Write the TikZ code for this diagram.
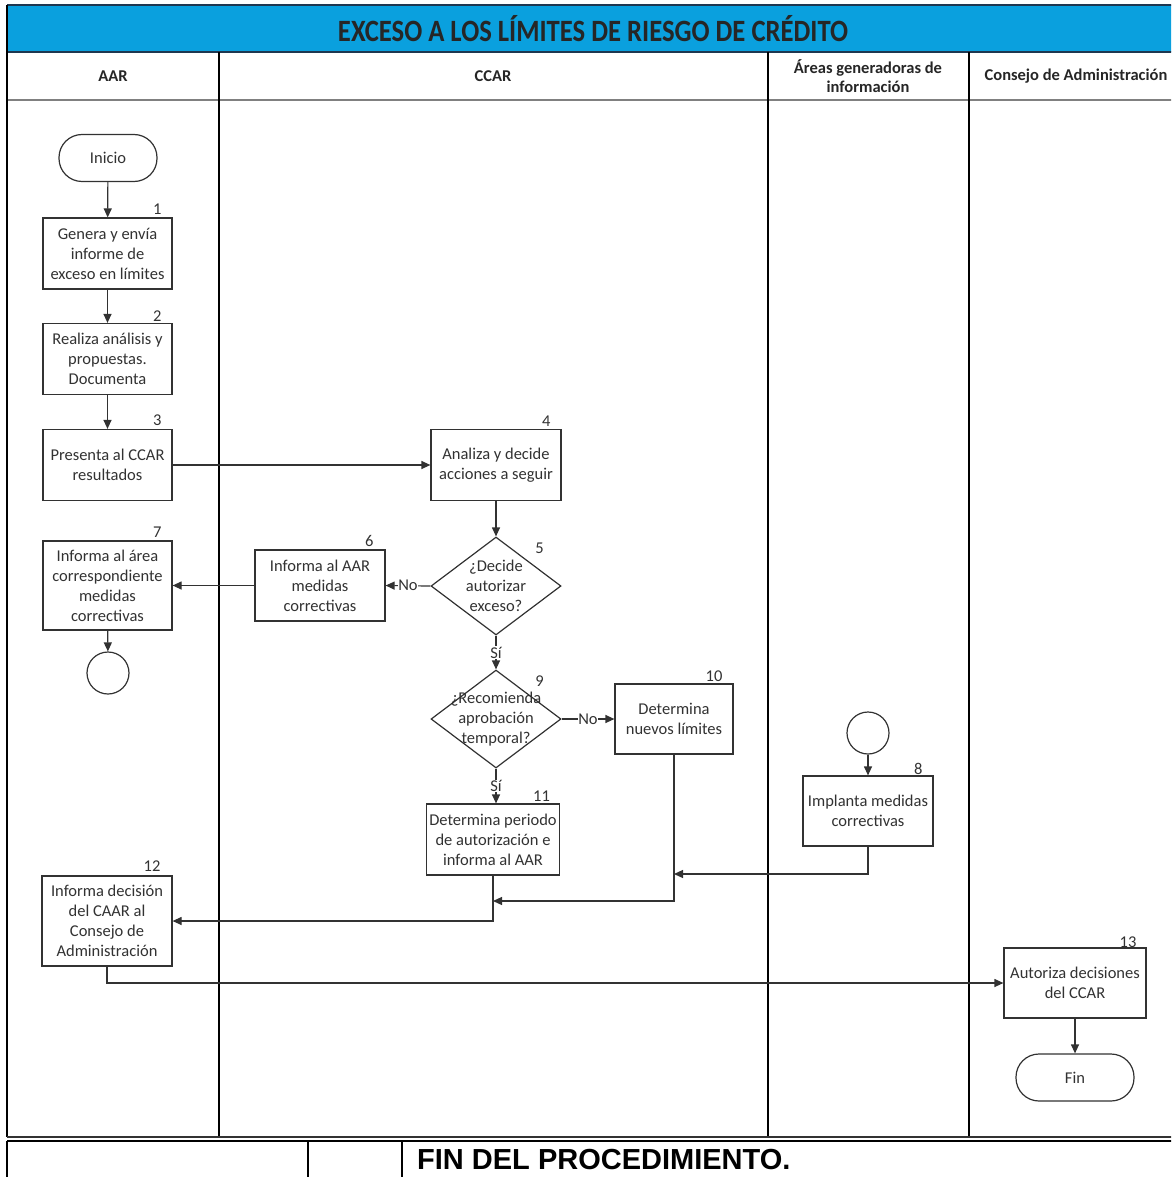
\documentclass[tikz,border=0pt]{standalone}
\usepackage{fontspec}
\setmainfont{Carlito}
\newfontfamily\arialfont{Liberation Sans}
\usetikzlibrary{arrows.meta,shapes.geometric,calc}
\definecolor{titleblue}{RGB}{10,160,222}
\definecolor{navy}{RGB}{30,55,80}
\definecolor{ink}{RGB}{50,50,50}
\begin{document}
\begin{tikzpicture}[x=1pt,y=-1pt,
  txtfont/.style={font=\fontsize{16.5}{20}\selectfont, text=ink},
  box/.style={draw=ink, line width=1.2pt, fill=white, rectangle, minimum width=130pt, minimum height=71pt, align=center, inner sep=1pt, txtfont},
  term/.style={draw=ink, line width=1.2pt, fill=white, rectangle, rounded corners=23pt, minimum width=98pt, minimum height=47pt, align=center, txtfont},
  dec/.style={draw=ink, line width=1.2pt, fill=white, diamond, minimum width=130pt, minimum height=98pt, inner sep=0pt},
  conn/.style={draw=ink, line width=1.2pt, circle, minimum size=42pt, inner sep=0pt},
  dtext/.style={align=center, txtfont},
  num/.style={font=\fontsize{16.5}{18}\selectfont, text=ink, anchor=south east, inner sep=1pt},
  arr/.style={draw=ink, line width=1.2pt, -{Triangle[length=9pt,width=8pt]}},
  lbl/.style={fill=white, txtfont, inner sep=0.5pt},
  lane/.style={draw=black, line width=1.5pt},
  head/.style={font=\bfseries\fontsize{16.5}{19}\selectfont, text=black!85, align=center}
]
\useasboundingbox (0,0) rectangle (1171,1177);
\clip (0,0) rectangle (1171,1177);

% title bar
\fill[titleblue] (7,5) rectangle (1180,52);
\draw[navy, line width=1.6pt] (7,5) -- (1180,5);
\draw[navy, line width=1.6pt] (7,52) -- (1180,52);
\node[font=\bfseries\fontsize{31}{34}\selectfont, text=black!85] (title) at (593,29) {\scalebox{0.86}[1]{EXCESO A LOS LÍMITES DE RIESGO DE CRÉDITO}};

% header row and lanes
\draw[gray, line width=2pt] (7,100) -- (1180,100);
\draw[lane] (7,5) -- (7,1137);
\draw[lane] (219,52) -- (219,1137);
\draw[lane] (768,52) -- (768,1137);
\draw[lane] (969,52) -- (969,1137);
\draw[black!80, line width=2pt] (7,1137) -- (1180,1137);

\node[head] (hAAR) at (113,76) {AAR};
\node[head] (hCCAR) at (493,76) {CCAR};
\node[head] (hAreas) at (868,76) {Áreas generadoras de\\información};
\node[head] (hCons) at (1076,76) {Consejo de Administración};

% bottom table
\draw[black, line width=2.4pt] (7,1141) -- (1180,1141);
\draw[black, line width=2pt] (7,1141) -- (7,1180);
\draw[black, line width=2pt] (308,1141) -- (308,1180);
\draw[black, line width=2pt] (402,1141) -- (402,1180);
\node[anchor=west, font=\arialfont\bfseries\fontsize{29}{32}\selectfont, text=black, inner sep=0pt] (finproc) at (417,1160) {FIN DEL PROCEDIMIENTO.};

% nodes
\node[term] (ini) at (108,158) {Inicio};
\node[box, minimum width=129pt] (b1) at (107.5,253.5) {Genera y envía\\informe de\\exceso en límites};
\node[box, minimum width=129pt] (b2) at (107.5,359) {Realiza análisis y\\propuestas.\\Documenta};
\node[box, minimum width=129pt] (b3) at (107.5,465) {Presenta al CCAR\\resultados};
\node[box] (b4) at (496,465) {Analiza y decide\\acciones a seguir};
\node[dec] (d5) at (496,586) {};
\node[dtext] (t5) at (d5) {¿Decide\\autorizar\\exceso?};
\node[box] (b6) at (320,585.5) {Informa al AAR\\medidas\\correctivas};
\node[box, minimum width=129pt, minimum height=89pt] (b7) at (107.5,585.5) {Informa al área\\correspondiente\\medidas\\correctivas};
\node[conn] (c7) at (108,673) {};
\node[dec] (d9) at (496,719) {};
\node[dtext] (t9) at (d9) {¿Recomienda\\aprobación\\temporal?};
\node[box, minimum width=118pt, minimum height=70pt] (b10) at (674,719) {Determina\\nuevos límites};
\node[box, minimum width=133pt] (b11) at (493,839.5) {Determina periodo\\de autorización e\\informa al AAR};
\node[conn] (c8) at (868,733) {};
\node[box, minimum height=70pt] (b8) at (868,811) {Implanta medidas\\correctivas};
\node[box, minimum height=90pt] (b12) at (107,921) {Informa decisión\\del CAAR al\\Consejo de\\Administración};
\node[box, minimum width=142pt, minimum height=70pt] (b13) at (1075,983) {Autoriza decisiones\\del CCAR};
\node[term, minimum width=118pt] (fin) at (1075,1077.5) {Fin};

% numbers
\node[num] (n1) at ([xshift=-10pt,yshift=2pt]b1.north east) {1};
\node[num] (n2) at ([xshift=-10pt,yshift=0pt]b2.north east) {2};
\node[num] (n3) at ([xshift=-10pt,yshift=2pt]b3.north east) {3};
\node[num] (n4) at ([xshift=-10pt,yshift=1pt]b4.north east) {4};
\node[num] (n5) at (545,555) {5};
\node[num] (n6) at ([xshift=-11pt,yshift=2pt]b6.north east) {6};
\node[num] (n7) at ([xshift=-10pt,yshift=2pt]b7.north east) {7};
\node[num] (n9) at (545,688) {9};
\node[num] (n10) at ([xshift=-10pt,yshift=1pt]b10.north east) {10};
\node[num] (n11) at ([xshift=-9pt,yshift=1pt]b11.north east) {11};
\node[num] (n8) at ([xshift=-10pt,yshift=0pt]b8.north east) {8};
\node[num] (n12) at ([xshift=-11pt,yshift=3pt]b12.north east) {12};
\node[num] (n13) at ([xshift=-9pt,yshift=-1pt]b13.north east) {13};

% connectors
\coordinate (y874) at (0,874);
\coordinate (y901) at (0,901);
\draw[arr] (ini) -- (b1);
\draw[arr] (b1) -- (b2);
\draw[arr] (b2) -- (b3);
\draw[arr] (b3) -- (b4);
\draw[arr] (b4) -- (d5);
\draw[arr] (d5.west) -- node[lbl] {No} (b6.east);
\draw[arr] (b6) -- (b7);
\draw[arr] (b7) -- (c7);
\draw[arr] (d5.south) -- node[lbl] {Sí} (d9.north);
\draw[arr] (d9.east) -- node[lbl] {No} (b10.west);
\draw[arr] (d9.south) -- node[lbl] {Sí} (d9.south |- b11.north);
\draw[arr] (c8) -- (b8);
\draw[arr] (b8.south) |- (b10.south |- y874);
\draw[arr] (b10.south) |- (b11.south |- y901);
\draw[arr] (b11.south) |- (b12.east);
\draw[arr] (b12.south) |- (b13.west);
\draw[arr] (b13) -- (fin);
\end{tikzpicture}
\end{document}
